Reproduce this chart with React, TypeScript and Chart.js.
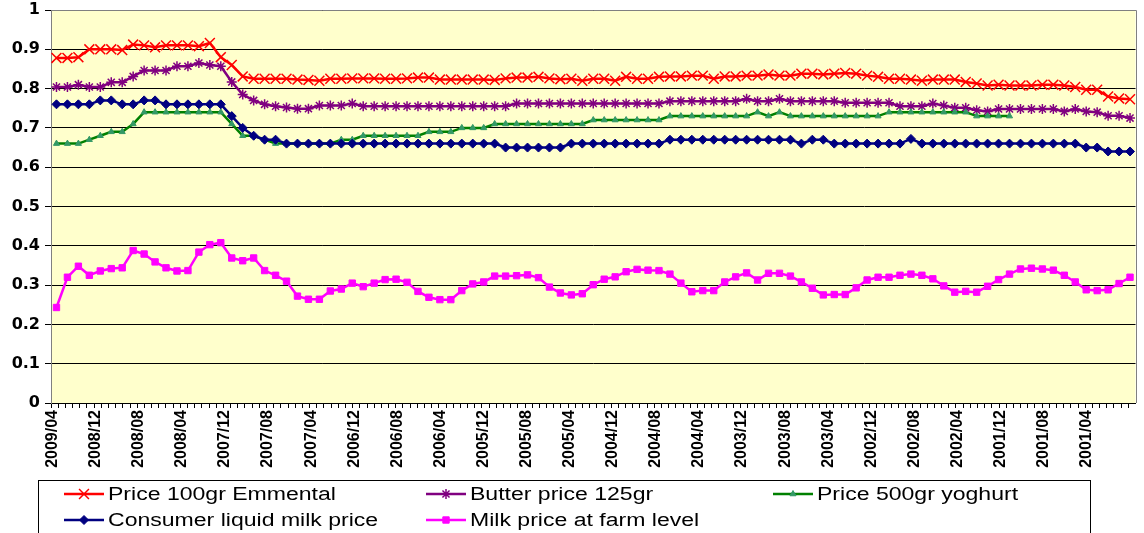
import React, { useEffect, useRef } from 'react';
import { Chart, registerables } from 'chart.js';

Chart.register(...registerables);

// ---------- categories (monthly, newest first) ----------
const FIRST_YEAR = 2009;
const FIRST_MONTH = 4;
const MONTH_COUNT = 99;
const months: string[] = [];
for (let i = 0; i < MONTH_COUNT; i++) {
  const t = FIRST_YEAR * 12 + (FIRST_MONTH - 1) - i;
  const y = Math.floor(t / 12);
  const m = (t % 12) + 1;
  months.push(`${y}/${String(m).padStart(2, '0')}`);
}
// the label axis of the original has its own finer tick grid: 151 tick slots,
// a date label on every 6th slot, each label 4 months apart
const LABEL_MONTH_STEP = 4;
const TICK_SLOTS = 151;
const SLOTS_PER_LABEL = 6;
const tickSlots: string[] = [];
for (let i = 0; i < TICK_SLOTS; i++) {
  tickSlots.push(i % SLOTS_PER_LABEL === 0 ? months[(i / SLOTS_PER_LABEL) * LABEL_MONTH_STEP] : '');
}
const yTickValues = [0, 0.1, 0.2, 0.3, 0.4, 0.5, 0.6, 0.7, 0.8, 0.9, 1];

// ---------- series ----------
const emmental = [
  0.878, 0.878, 0.88, 0.9, 0.9, 0.9, 0.898, 0.912, 0.91, 0.905,
  0.91, 0.91, 0.91, 0.908, 0.916, 0.88, 0.86, 0.831, 0.825, 0.825,
  0.825, 0.825, 0.823, 0.822, 0.82, 0.825, 0.825, 0.826, 0.826, 0.826,
  0.825, 0.825, 0.826, 0.828, 0.828, 0.823, 0.823, 0.823, 0.823, 0.823,
  0.822, 0.826, 0.828, 0.828, 0.83, 0.826, 0.824, 0.825, 0.82, 0.825,
  0.825, 0.82, 0.83, 0.825, 0.825, 0.83, 0.831, 0.831, 0.833, 0.833,
  0.825, 0.831, 0.831, 0.833, 0.833, 0.836, 0.833, 0.833, 0.838, 0.838,
  0.836, 0.838, 0.84, 0.838, 0.833, 0.83, 0.825, 0.825, 0.823, 0.82,
  0.823, 0.823, 0.823, 0.817, 0.813, 0.808, 0.81, 0.808, 0.808, 0.808,
  0.81, 0.81, 0.808, 0.804, 0.797, 0.797, 0.78, 0.775, 0.773,
];

const butter = [
  0.804, 0.804, 0.81, 0.804, 0.804, 0.816, 0.816, 0.831, 0.846, 0.846,
  0.846, 0.857, 0.857, 0.865, 0.86, 0.857, 0.817, 0.785, 0.77, 0.76,
  0.755, 0.752, 0.749, 0.749, 0.757, 0.757, 0.757, 0.762, 0.755, 0.755,
  0.755, 0.755, 0.755, 0.755, 0.755, 0.755, 0.755, 0.755, 0.755, 0.755,
  0.755, 0.755, 0.762, 0.762, 0.762, 0.762, 0.762, 0.762, 0.762, 0.762,
  0.762, 0.762, 0.762, 0.762, 0.762, 0.762, 0.768, 0.768, 0.768, 0.768,
  0.768, 0.768, 0.768, 0.774, 0.768, 0.768, 0.774, 0.768, 0.768, 0.768,
  0.768, 0.768, 0.764, 0.764, 0.764, 0.764, 0.764, 0.755, 0.755, 0.755,
  0.762, 0.757, 0.751, 0.751, 0.745, 0.742, 0.748, 0.748, 0.748, 0.748,
  0.748, 0.748, 0.742, 0.748, 0.742, 0.74, 0.731, 0.731, 0.725,
];

const yoghurt = [
  0.66, 0.66, 0.66, 0.67, 0.68, 0.69, 0.69, 0.71, 0.74, 0.74,
  0.74, 0.74, 0.74, 0.74, 0.74, 0.74, 0.71, 0.68, 0.68, 0.67,
  0.66, 0.66, 0.66, 0.66, 0.66, 0.66, 0.67, 0.67, 0.68, 0.68,
  0.68, 0.68, 0.68, 0.68, 0.69, 0.69, 0.69, 0.7, 0.7, 0.7,
  0.71, 0.71, 0.71, 0.71, 0.71, 0.71, 0.71, 0.71, 0.71, 0.72,
  0.72, 0.72, 0.72, 0.72, 0.72, 0.72, 0.73, 0.73, 0.73, 0.73,
  0.73, 0.73, 0.73, 0.73, 0.74, 0.73, 0.74, 0.73, 0.73, 0.73,
  0.73, 0.73, 0.73, 0.73, 0.73, 0.73, 0.74, 0.74, 0.74, 0.74,
  0.74, 0.74, 0.74, 0.74, 0.73, 0.73, 0.73, 0.73, null, null,
  null, null, null, null, null, null, null, null, null,
];

const consumerMilk = [
  0.76, 0.76, 0.76, 0.76, 0.77, 0.77, 0.76, 0.76, 0.77, 0.77,
  0.76, 0.76, 0.76, 0.76, 0.76, 0.76, 0.73, 0.7, 0.68, 0.67,
  0.67, 0.66, 0.66, 0.66, 0.66, 0.66, 0.66, 0.66, 0.66, 0.66,
  0.66, 0.66, 0.66, 0.66, 0.66, 0.66, 0.66, 0.66, 0.66, 0.66,
  0.66, 0.65, 0.65, 0.65, 0.65, 0.65, 0.65, 0.66, 0.66, 0.66,
  0.66, 0.66, 0.66, 0.66, 0.66, 0.66, 0.67, 0.67, 0.67, 0.67,
  0.67, 0.67, 0.67, 0.67, 0.67, 0.67, 0.67, 0.67, 0.66, 0.67,
  0.67, 0.66, 0.66, 0.66, 0.66, 0.66, 0.66, 0.66, 0.672, 0.66,
  0.66, 0.66, 0.66, 0.66, 0.66, 0.66, 0.66, 0.66, 0.66, 0.66,
  0.66, 0.66, 0.66, 0.66, 0.65, 0.65, 0.64, 0.64, 0.64,
];

const farmMilk = [
  0.243, 0.32, 0.348, 0.325, 0.336, 0.342, 0.344, 0.388, 0.379, 0.359,
  0.344, 0.336, 0.337, 0.384, 0.403, 0.408, 0.369, 0.362, 0.369, 0.337,
  0.325, 0.31, 0.272, 0.264, 0.264, 0.285, 0.29, 0.305, 0.296, 0.305,
  0.314, 0.315, 0.307, 0.284, 0.269, 0.263, 0.263, 0.286, 0.303, 0.308,
  0.323, 0.323, 0.324, 0.326, 0.319, 0.295, 0.28, 0.275, 0.278, 0.301,
  0.315, 0.321, 0.334, 0.34, 0.338, 0.337, 0.328, 0.305, 0.283, 0.286,
  0.286, 0.308, 0.321, 0.331, 0.313, 0.33, 0.33, 0.323, 0.308, 0.292,
  0.275, 0.276, 0.276, 0.293, 0.313, 0.32, 0.32, 0.325, 0.328, 0.325,
  0.316, 0.298, 0.282, 0.284, 0.282, 0.297, 0.314, 0.328, 0.341, 0.343,
  0.341, 0.338, 0.325, 0.308, 0.288, 0.286, 0.288, 0.304, 0.32,
];

const seriesNames = [
  'Price 100gr Emmental',
  'Butter price 125gr',
  'Price 500gr yoghurt',
  'Consumer liquid milk price',
  'Milk price at farm level',
];

// ---------- styles ----------
const SANS = '"Liberation Sans", Arial, sans-serif';
const WIDE = '"DejaVu Sans", Verdana, sans-serif';
const PLOT_BG = '#FFFFCC';

type MarkerStyle = { point: string; radius: number; line: string; fill: string; border: number };
const styles: MarkerStyle[] = [
  { point: 'crossRot', radius: 7, line: '#FF0000', fill: '#FF0000', border: 1.5 },
  { point: 'star', radius: 5, line: '#800080', fill: '#800080', border: 1.5 },
  { point: 'triangle', radius: 3.5, line: '#008000', fill: '#339966', border: 1 },
  { point: 'rectRot', radius: 4.5, line: '#000080', fill: '#000080', border: 1 },
  { point: 'rect', radius: 4.5, line: '#FF00FF', fill: '#FF00FF', border: 1 },
];
const seriesData = [emmental, butter, yoghurt, consumerMilk, farmMilk];
const drawOrder = [4, 3, 2, 1, 0];

// legend layout (column/row per series)
const LEGEND_BOX = { left: 38, top: 480, right: 1090, bottom: 545 };
const LEGEND_COL_X = [64, 426, 773];
const LEGEND_ROW_Y = [494, 520];
const LEGEND_POS = [[0, 0], [1, 0], [2, 0], [0, 1], [1, 1]];
const LEGEND_LINE_LEN = 40;
const LEGEND_TEXT_GAP = 4;

function drawMarker(ctx: CanvasRenderingContext2D, s: MarkerStyle, x: number, y: number) {
  const r = s.radius;
  ctx.save();
  ctx.strokeStyle = s.fill;
  ctx.fillStyle = s.fill;
  ctx.lineWidth = s.border;
  ctx.beginPath();
  const q = Math.SQRT1_2 * r;
  switch (s.point) {
    case 'crossRot':
      ctx.moveTo(x - q, y - q); ctx.lineTo(x + q, y + q);
      ctx.moveTo(x - q, y + q); ctx.lineTo(x + q, y - q);
      ctx.stroke();
      break;
    case 'star':
      ctx.moveTo(x - q, y - q); ctx.lineTo(x + q, y + q);
      ctx.moveTo(x - q, y + q); ctx.lineTo(x + q, y - q);
      ctx.moveTo(x, y - r); ctx.lineTo(x, y + r);
      ctx.moveTo(x - r, y); ctx.lineTo(x + r, y);
      ctx.stroke();
      break;
    case 'triangle':
      ctx.moveTo(x, y - r);
      ctx.lineTo(x + r * 0.87, y + r * 0.5);
      ctx.lineTo(x - r * 0.87, y + r * 0.5);
      ctx.closePath(); ctx.fill(); ctx.stroke();
      break;
    case 'rectRot':
      ctx.moveTo(x, y - r); ctx.lineTo(x + r, y); ctx.lineTo(x, y + r); ctx.lineTo(x - r, y);
      ctx.closePath(); ctx.fill(); ctx.stroke();
      break;
    default:
      ctx.rect(x - q, y - q, 2 * q, 2 * q);
      ctx.fill(); ctx.stroke();
  }
  ctx.restore();
}

const plotBackground = {
  id: 'plotBackground',
  beforeDraw(chart: any) {
    const { ctx, chartArea: a } = chart;
    ctx.save();
    ctx.fillStyle = '#FFFFFF';
    ctx.fillRect(0, 0, chart.width, chart.height);
    ctx.fillStyle = PLOT_BG;
    ctx.fillRect(a.left, a.top, a.right - a.left, a.bottom - a.top);
    ctx.restore();
  },
  beforeDatasetsDraw(chart: any) {
    const { ctx, chartArea: a } = chart;
    ctx.save();
    ctx.strokeStyle = '#808080';
    ctx.lineWidth = 1;
    ctx.beginPath();
    ctx.moveTo(a.left, Math.round(a.top) + 0.5);
    ctx.lineTo(Math.round(a.right) + 0.5, Math.round(a.top) + 0.5);
    ctx.lineTo(Math.round(a.right) + 0.5, a.bottom);
    ctx.stroke();
    ctx.restore();
  },
};

const boxLegend = {
  id: 'boxLegend',
  afterDraw(chart: any) {
    const ctx: CanvasRenderingContext2D = chart.ctx;
    ctx.save();
    ctx.strokeStyle = '#000000';
    ctx.lineWidth = 1;
    ctx.strokeRect(LEGEND_BOX.left + 0.5, LEGEND_BOX.top + 0.5,
      LEGEND_BOX.right - LEGEND_BOX.left, LEGEND_BOX.bottom - LEGEND_BOX.top);
    chart.data.datasets.forEach((ds: any, i: number) => {
      const [c, r] = LEGEND_POS[i];
      const x0 = LEGEND_COL_X[c];
      const y = LEGEND_ROW_Y[r];
      const s = styles[i];
      ctx.strokeStyle = s.line;
      ctx.lineWidth = 2.5;
      ctx.beginPath();
      ctx.moveTo(x0, y);
      ctx.lineTo(x0 + LEGEND_LINE_LEN, y);
      ctx.stroke();
      drawMarker(ctx, s, x0 + LEGEND_LINE_LEN / 2, y);
      ctx.fillStyle = '#000000';
      ctx.font = `18px ${SANS}`;
      ctx.textBaseline = 'middle';
      ctx.textAlign = 'left';
      ctx.save();
      ctx.translate(x0 + LEGEND_LINE_LEN + LEGEND_TEXT_GAP, y + 1);
      ctx.scale(1.28, 1);
      ctx.fillText(ds.label, 0, 0);
      ctx.restore();
    });
    ctx.restore();
  },
};

export default function App() {
  const ref = useRef<HTMLCanvasElement>(null);

  useEffect(() => {
    if (!ref.current) return;
    Chart.defaults.font.family = SANS;
    const datasets = seriesData.map((d, i) => ({
      label: seriesNames[i],
      data: d,
      xAxisID: 'x',
      borderColor: styles[i].line,
      backgroundColor: styles[i].fill,
      borderWidth: 2.5,
      pointStyle: styles[i].point as any,
      pointRadius: styles[i].radius,
      pointBorderWidth: styles[i].border,
      pointBackgroundColor: styles[i].fill,
      pointBorderColor: styles[i].fill,
      tension: 0,
      spanGaps: false,
      order: drawOrder[i],
    }));
    const chart = new Chart(ref.current, {
      type: 'line',
      data: { labels: months, datasets },
      plugins: [plotBackground, boxLegend],
      options: {
        animation: false,
        responsive: false,
        devicePixelRatio: 1,
        layout: { padding: { left: 0, top: 10, right: 3, bottom: 0 } },
        plugins: { legend: { display: false }, tooltip: { enabled: false } },
        scales: {
          x: {
            type: 'category',
            offset: true,
            display: false,
          },
          xLabels: {
            type: 'category',
            position: 'bottom',
            labels: tickSlots,
            offset: true,
            grid: { offset: true, drawOnChartArea: false, drawTicks: true, tickLength: 5, color: '#000000' },
            border: { color: '#000000', width: 1 },
            ticks: {
              autoSkip: false,
              maxRotation: 90,
              minRotation: 90,
              padding: 2,
              labelOffset: -2,
              color: '#000000',
              font: { family: SANS, weight: 'bold', size: 16 },
              callback: (_v: any, i: number) => tickSlots[i],
            },
            afterFit: (s: any) => { s.height = 130; s.paddingLeft = 0; s.paddingRight = 0; },
          },
          y: {
            min: 0,
            max: 1,
            afterBuildTicks: (s: any) => { s.ticks = yTickValues.map((v) => ({ value: v })); },
            grid: { color: '#000000', lineWidth: 1, tickLength: 6 },
            border: { color: '#808080', width: 1 },
            ticks: {
              color: '#000000',
              padding: 5,
              font: { family: WIDE, weight: 'bold', size: 16 },
              callback: (v: any) => String(Math.round(v * 10) / 10),
            },
            afterFit: (s: any) => { s.width = 51; s.paddingTop = 0; s.paddingBottom = 0; },
          },
        },
      },
    });
    return () => chart.destroy();
  }, []);

  return (
    <div style={{ position: 'fixed', left: 0, top: 0, width: 1144, height: 533, background: '#FFFFFF', overflow: 'hidden' }}>
      <canvas ref={ref} width={1144} height={533} style={{ display: 'block' }} />
    </div>
  );
}
